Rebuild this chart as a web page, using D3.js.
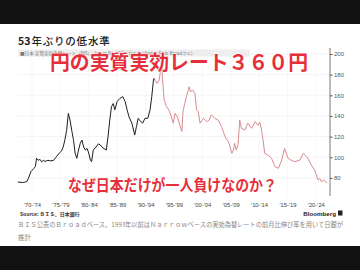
<!DOCTYPE html>
<html>
<head>
<meta charset="utf-8">
<script src="https://cdn.jsdelivr.net/npm/d3@7"></script>
<style>
  body { margin: 0; background: #fff; }
  svg { display: block; }
  text { font-family: "Noto Sans CJK JP", "Noto Sans", sans-serif; }
</style>
</head>
<body>
<div id="chart"></div>
<script>

var w = 360,
    h = 270;

// narrow-based estimate (black), up to end of 1993
var oldYears = [1970.0, 1970.8, 1971.3, 1971.6, 1971.9, 1972.3, 1972.8, 1973.1, 1973.3, 1973.6,
                1973.9, 1974.2, 1974.5, 1974.8, 1975.3, 1975.8, 1976.3, 1976.8, 1977.3, 1977.7,
                1978.0, 1978.3, 1978.6, 1978.9, 1979.2, 1979.5, 1979.8, 1980.1, 1980.4, 1980.7,
                1981.0, 1981.3, 1981.6, 1981.9, 1982.2, 1982.5, 1982.8, 1983.0, 1983.3, 1983.8,
                1984.2, 1984.5, 1985.0, 1985.6, 1985.9, 1986.2, 1986.5, 1986.8, 1987.1, 1987.5,
                1988.0, 1988.5, 1988.9, 1989.3, 1989.6, 1990.1, 1990.6, 1990.9, 1991.2, 1991.7,
                1992.0, 1992.4, 1992.9, 1993.3, 1993.6, 1993.9, 1994.0];
var oldValues = [76, 75.5, 76, 76.5, 80, 86, 89, 91, 99, 97,
                 98, 95.5, 97, 96, 97, 96.5, 97, 100.5, 104, 106,
                 110, 117, 126, 142.5, 136, 126, 117, 104, 99, 107,
                 113.5, 116.7, 110, 107, 108.5, 104, 97, 95.7, 107, 110,
                 113, 112, 109, 107, 120, 136, 149, 152, 146, 154,
                 157, 158.7, 154, 145, 139, 133, 121.5, 129.6, 137.7, 134.4,
                 133, 137.7, 137.7, 145.8, 158.7, 174.8, 176.5];

// BIS broad (pink), from 1994
var newYears = [1994.0, 1994.5, 1994.9, 1995.1, 1995.3, 1995.5, 1995.8, 1996.2, 1996.7, 1997.0,
                1997.4, 1997.7, 1998.2, 1998.6, 1998.9, 1999.1, 1999.4, 1999.7, 2000.2, 2000.4,
                2000.8, 2001.2, 2001.5, 2001.8, 2002.1, 2002.7, 2003.3, 2003.7, 2004.1, 2004.7,
                2005.3, 2005.9, 2006.5, 2007.1, 2007.5, 2007.7, 2008.0, 2008.2, 2008.5, 2008.8,
                2009.1, 2009.4, 2010.0, 2010.5, 2011.2, 2011.8, 2012.3, 2012.6, 2012.9, 2013.2,
                2013.5, 2014.1, 2014.7, 2015.3, 2015.9, 2016.5, 2017.0, 2017.6, 2018.1, 2018.8,
                2019.7, 2020.3, 2020.8, 2021.1, 2021.7, 2022.3, 2022.9, 2023.2, 2023.5, 2023.9,
                2024.5];
var newValues = [176.5, 171.6, 174.8, 182, 194, 175, 155, 149, 145, 140,
                 133, 142.6, 138, 130, 125, 144, 152, 158.7, 168.4, 163.5,
                 165, 162, 145.8, 144, 133, 137.7, 134.4, 136, 141, 137.7,
                 136, 129.6, 120, 115, 108, 103.8, 107, 113.5, 107, 112,
                 136, 128, 126.4, 133, 128, 134.4, 131, 134, 128, 116.7,
                 103.8, 102, 99, 90.8, 89.3, 97.3, 108.7, 99, 97.3, 95.7,
                 97.3, 103.8, 101, 99, 92.5, 87.6, 78, 79.5, 76.3, 78,
                 74.8];

// axis labels
var periodStarts = [1970, 1975, 1980, 1985, 1990, 1995, 2000, 2005, 2010, 2015, 2020],
    periodLabels = ["'70-'74", "'75-'79", "'80-'84", "'85-'89", "'90-'94", "'95-'99",
                    "'00-'04", "'05-'09", "'10-'14", "'15-'19", "'20-'24"],
    yTicks = [80, 100, 120, 140, 160, 180, 200];

var svg = d3.select("#chart").append("svg")
    .attr("width", w)
    .attr("height", h);

// x and y scale
var x = d3.scaleLinear()
        .domain([1970, 2025])
        .range([17.8, 330]),
    y = d3.scaleLinear()
        .domain([80, 200])
        .range([177.9, 54]);

// gridlines
svg.append("g")
    .selectAll("line")
    .data(yTicks)
    .enter().append("line")
    .attr("x1", x(1970))
    .attr("x2", x(2025))
    .attr("y1", function(d) { return y(d); })
    .attr("y2", function(d) { return y(d); })
    .attr("stroke", "#ececec")
    .attr("stroke-width", 0.6);

svg.append("g")
    .selectAll("line")
    .data(periodStarts)
    .enter().append("line")
    .attr("x1", function(d) { return x(d + 2.5); })
    .attr("x2", function(d) { return x(d + 2.5); })
    .attr("y1", 48)
    .attr("y2", 196)
    .attr("stroke", "#f1f1f1")
    .attr("stroke-width", 0.6);

// right axis
var yAxis = d3.axisRight(y)
    .tickValues(yTicks)
    .tickSize(2.5)
    .tickPadding(1.5);

var yg = svg.append("g")
    .attr("transform", "translate(" + x(2025) + ",0)")
    .call(yAxis);

yg.select(".domain").remove();
yg.append("line")
    .attr("y1", 48)
    .attr("y2", 196)
    .attr("stroke", "#555")
    .attr("stroke-width", 0.8);
yg.selectAll(".tick line").attr("stroke", "#555");
yg.selectAll(".tick text")
    .attr("fill", "#555")
    .style("font-size", "6px")
    .style("font-family", "Arial, 'Liberation Sans', sans-serif");

// period labels under the plot
var xAxis = d3.axisBottom(x)
    .tickValues(periodStarts.map(function(d) { return d + 2.5; }))
    .tickFormat(function(d, i) { return periodLabels[i]; })
    .tickSize(0)
    .tickPadding(0);

var xg = svg.append("g")
    .attr("transform", "translate(0,203)")
    .call(xAxis);

xg.select(".domain").remove();
xg.selectAll(".tick text")
    .attr("fill", "#444")
    .style("font-size", "5.8px")
    .style("font-family", "Arial, 'Liberation Sans', sans-serif");

// lines
var line = d3.line()
    .x(function(d) { return x(d[0]); })
    .y(function(d) { return y(d[1]); });

svg.append("path")
    .datum(d3.zip(newYears, newValues))
    .attr("d", line)
    .attr("fill", "none")
    .attr("stroke", "#dc8a90")
    .attr("stroke-width", 1);

svg.append("path")
    .datum(d3.zip(oldYears, oldValues))
    .attr("d", line)
    .attr("fill", "none")
    .attr("stroke", "#1e1e1e")
    .attr("stroke-width", 1);

// title and legend
var title = svg.append("text")
    .attr("x", 18)
    .attr("y", 45)
    .attr("fill", "#222")
    .style("font-size", "10.5px")
    .style("font-weight", "bold");
title.append("tspan").text("53");
title.append("tspan")
    .style("font-weight", "500")
    .style("letter-spacing", "0.8px")
    .attr("dx", 1)
    .text("年ぶりの低水準");

svg.append("rect")
    .attr("x", 18)
    .attr("y", 49.5)
    .attr("width", 232)
    .attr("height", 7)
    .attr("fill", "#eeeeee");

svg.append("text")
    .attr("x", 20)
    .attr("y", 55)
    .attr("fill", "#777")
    .style("font-size", "4.6px")
    .text("■日本 実質実効為替レート（BIS）  Japan Real Effective Exchange Rate Broad (r.s.)");

// source and footnote
svg.append("text")
    .attr("x", 20)
    .attr("y", 215.5)
    .attr("fill", "#333")
    .style("font-size", "5px")
    .style("font-weight", "bold")
    .text("Source: ＢＩＳ、日本銀行");

svg.append("text")
    .attr("x", 336)
    .attr("y", 215.5)
    .attr("text-anchor", "end")
    .attr("fill", "#222")
    .style("font-size", "6.2px")
    .style("font-weight", "bold")
    .style("font-family", "Arial, 'Liberation Sans', sans-serif")
    .text("Bloomberg");

svg.append("rect")
    .attr("x", 338)
    .attr("y", 210.5)
    .attr("width", 4.5)
    .attr("height", 5)
    .attr("fill", "#222");

svg.append("text")
    .attr("x", 18)
    .attr("y", 227)
    .attr("fill", "#888")
    .attr("textLength", 325)
    .attr("lengthAdjust", "spacingAndGlyphs")
    .style("font-size", "6.4px")
    .text("ＢＩＳ公表のＢｒｏａｄベース。1993年以前はＮａｒｒｏｗベースの実効為替レートの前月比伸び率を用いて日銀が");

svg.append("text")
    .attr("x", 18)
    .attr("y", 240)
    .attr("fill", "#888")
    .style("font-size", "6.4px")
    .text("推計");

// big red captions
svg.append("text")
    .attr("x", 50)
    .attr("y", 70)
    .attr("fill", "#e5303c")
    .attr("stroke", "#fff")
    .attr("stroke-width", 1.2)
    .attr("paint-order", "stroke")
    .attr("textLength", 258)
    .attr("lengthAdjust", "spacingAndGlyphs")
    .style("font-size", "20.5px")
    .style("font-weight", "bold")
    .text("円の実質実効レート３６０円");

svg.append("text")
    .attr("x", 68)
    .attr("y", 190.5)
    .attr("fill", "#e5303c")
    .attr("stroke", "#fff")
    .attr("stroke-width", 1)
    .attr("paint-order", "stroke")
    .attr("textLength", 209)
    .attr("lengthAdjust", "spacingAndGlyphs")
    .style("font-size", "15.5px")
    .style("font-weight", "bold")
    .text("なぜ日本だけが一人負けなのか？");

// black bands top and bottom
svg.append("rect")
    .attr("x", 0)
    .attr("y", 0)
    .attr("width", w)
    .attr("height", 24)
    .attr("fill", "#111");

svg.append("rect")
    .attr("x", 0)
    .attr("y", 246)
    .attr("width", w)
    .attr("height", h - 246)
    .attr("fill", "#111");

</script>
</body>
</html>
